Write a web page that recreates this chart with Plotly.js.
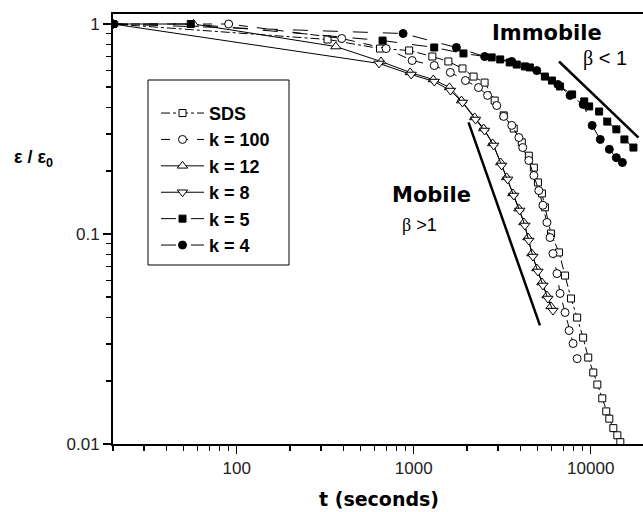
<!DOCTYPE html>
<html><head><meta charset="utf-8">
<script src="https://cdn.plot.ly/plotly-3.0.1.min.js"></script>
<style>html,body{margin:0;padding:0;background:#fff}</style>
</head><body><div id="chart" style="width:643px;height:512px"></div>
<script>
// ---- data ----
const seriesNames = ['SDS', 'k = 100', 'k = 12', 'k = 8', 'k = 5', 'k = 4'];

const tSDS = [20, 326, 645, 942, 1274, 1570, 1886, 2178, 2514, 2866, 3224, 3672, 4080, 4470, 4772, 5032, 5300, 5512, 5960, 6620, 7160, 7740, 8380, 9060, 9680, 10340, 10900, 11620, 12240, 12740, 13420, 14140, 14700];
const eSDS = [1.0, 0.844, 0.764, 0.748, 0.700, 0.663, 0.614, 0.562, 0.526, 0.432, 0.367, 0.318, 0.273, 0.236, 0.207, 0.176, 0.156, 0.134, 0.1005, 0.0817, 0.0634, 0.0493, 0.040, 0.0321, 0.0258, 0.0219, 0.0192, 0.0165, 0.0143, 0.0132, 0.0119, 0.011, 0.0102];

const tK100 = [20, 90, 392, 698, 980, 1306, 1610, 1960, 2322, 2614, 2944, 3224, 3580, 3930, 4130, 4470, 4772, 5090, 5370, 5660, 5890, 6120, 6450, 6710, 7160, 7550, 7950, 8380];
const eK100 = [1.0, 1.0, 0.853, 0.764, 0.670, 0.634, 0.588, 0.538, 0.498, 0.457, 0.409, 0.363, 0.329, 0.288, 0.258, 0.224, 0.190, 0.161, 0.137, 0.1135, 0.0962, 0.0807, 0.0648, 0.0521, 0.0423, 0.0347, 0.0301, 0.0255];

const tK12 = [20, 57, 363, 653, 955, 1290, 1592, 1862, 2208, 2484, 2793, 3100, 3350, 3630, 3930, 4190, 4420, 4650, 4960, 5300, 5660, 5960];
const eK12 = [1.0, 1.0, 0.781, 0.663, 0.588, 0.544, 0.499, 0.432, 0.359, 0.318, 0.270, 0.219, 0.186, 0.156, 0.132, 0.1135, 0.0962, 0.0807, 0.0685, 0.0588, 0.0509, 0.0452];

const tK8 = [20, 637, 968, 1307, 1612, 1886, 2236, 2514, 2830, 3140, 3396, 3674, 3972, 4246, 4470, 4710, 5032, 5370, 5730, 6120];
const eK8 = [1.0, 0.649, 0.575, 0.532, 0.482, 0.423, 0.351, 0.311, 0.264, 0.212, 0.182, 0.1525, 0.1294, 0.1098, 0.0931, 0.0781, 0.0663, 0.0569, 0.0493, 0.0432];

const tK5 = [20, 55, 667, 1306, 1910, 2757, 3080, 3485, 3820, 4245, 4530, 5510, 6040, 6710, 7850, 9190, 9800, 11160, 12400, 13960, 15500, 17430];
const eK5 = [1.0, 1.0, 0.834, 0.773, 0.724, 0.693, 0.678, 0.656, 0.641, 0.628, 0.621, 0.562, 0.538, 0.504, 0.462, 0.428, 0.405, 0.383, 0.343, 0.315, 0.282, 0.258];

const tK4 = [20, 871, 1742, 2515, 3580, 4960, 6530, 7640, 9060, 10190, 11320, 12740, 13960, 15100];
const eK4 = [1.0, 0.901, 0.773, 0.700, 0.663, 0.600, 0.515, 0.457, 0.414, 0.329, 0.282, 0.253, 0.231, 0.219];

const fitMobileT = [2040, 5165];
const fitMobileE = [0.340, 0.0367];
const fitImmobileT = [6620, 18620];
const fitImmobileE = [0.663, 0.288];

const xTickVals = [100, 1000, 10000];
const xTickText = ['100', '1000', '10000'];
const yTickVals = [0.01, 0.1, 1];
const yTickText = ['0.01', '0.1', '1'];

// ---- minor tick positions (2..9 per decade) ----
function minorTicks(fromExp, toExp) {
  const v = [];
  for (let p = fromExp; p <= toExp; p++) for (let m = 2; m <= 9; m++) v.push(m * Math.pow(10, p));
  return v;
}

function series(name, t, e, symbol, fill, size, dash) {
  return {
    type: 'scatter', mode: 'lines+markers', name: name, x: t, y: e,
    line: {color: '#000', width: 1, dash: dash},
    marker: {symbol: symbol, size: size, color: fill, line: {color: '#000', width: 1}}
  };
}

const data = [
  series(seriesNames[0], tSDS, eSDS, 'square', '#fff', 7, 'dashdot'),
  series(seriesNames[1], tK100, eK100, 'circle', '#fff', 8, 'dash'),
  series(seriesNames[2], tK12, eK12, 'triangle-up', '#fff', 9, 'solid'),
  series(seriesNames[3], tK8, eK8, 'triangle-down', '#fff', 9, 'solid'),
  series(seriesNames[4], tK5, eK5, 'square', '#000', 7, 'longdash'),
  series(seriesNames[5], tK4, eK4, 'circle', '#000', 8, 'longdash'),
  {type: 'scatter', mode: 'lines', x: fitMobileT, y: fitMobileE, showlegend: false, line: {color: '#000', width: 2.5}},
  {type: 'scatter', mode: 'lines', x: fitImmobileT, y: fitImmobileE, showlegend: false, line: {color: '#000', width: 2.5}}
];

const tickFont = {family: 'Liberation Sans, Arial, sans-serif', size: 17, color: '#222'};
const axisCommon = {
  type: 'log', ticks: 'outside', ticklen: 8, tickwidth: 1.5, tickcolor: '#000',
  showline: true, linewidth: 2, linecolor: '#000', showgrid: false, zeroline: false,
  tickfont: tickFont
};

const layout = {
  width: 643, height: 512,
  margin: {l: 113, r: 0, t: 14, b: 68},
  paper_bgcolor: '#fff', plot_bgcolor: '#fff',
  showlegend: true,
  legend: {
    x: (156 - 113) / 530, y: 0.812, xanchor: 'left', yanchor: 'top',
    bgcolor: 'rgba(0,0,0,0)', borderwidth: 0, itemwidth: 43, tracegroupgap: 0,
    font: {family: 'Liberation Sans, Arial, sans-serif', size: 18, weight: 'bold', color: '#000'}
  },
  xaxis: Object.assign({}, axisCommon, {
    range: [Math.log10(20), Math.log10(20) + 530 / 177],
    tickvals: xTickVals, ticktext: xTickText, mirror: true,
    minor: {tickvals: minorTicks(1, 4), ticks: 'outside', ticklen: 5, tickwidth: 1.5, tickcolor: '#000', showgrid: false}
  }),
  yaxis: Object.assign({}, axisCommon, {
    range: [-2, -2 + 430 / 210],
    tickvals: yTickVals, ticktext: yTickText,
    minor: {tickvals: minorTicks(-2, -1), ticks: 'outside', ticklen: 5, tickwidth: 1.5, tickcolor: '#000', showgrid: false}
  }),
  shapes: [{
    type: 'rect', xref: 'paper', yref: 'paper', layer: 'below',
    x0: (148 - 113) / 530, x1: (289 - 113) / 530,
    y0: (444 - 265) / 430, y1: (444 - 80) / 430,
    line: {color: '#000', width: 1}, fillcolor: '#fff'
  }],
  annotations: [
    {xref: 'paper', yref: 'paper', x: (546.5 - 113) / 530, y: (444 - 32.5) / 430, text: 'Immobile', showarrow: false,
     xanchor: 'center', yanchor: 'middle', font: {family: 'DejaVu Sans, sans-serif', size: 21, weight: 'bold', color: '#000'}},
    {xref: 'paper', yref: 'paper', x: (431 - 113) / 530, y: (444 - 194.5) / 430, text: 'Mobile', showarrow: false,
     xanchor: 'center', yanchor: 'middle', font: {family: 'DejaVu Sans, sans-serif', size: 21, weight: 'bold', color: '#000'}},
    {xref: 'paper', yref: 'paper', x: (605 - 113) / 530, y: (444 - 59) / 430, text: '<span style="font-family:Liberation Serif">β</span> < 1', showarrow: false,
     xanchor: 'center', yanchor: 'middle', font: {family: 'Liberation Sans, Arial, sans-serif', size: 20, color: '#000'}},
    {xref: 'paper', yref: 'paper', x: (419 - 113) / 530, y: (444 - 225) / 430, text: '<span style="font-family:Liberation Serif">β</span> >1', showarrow: false,
     xanchor: 'center', yanchor: 'middle', font: {family: 'Liberation Sans, Arial, sans-serif', size: 18, color: '#000'}},
    {xref: 'paper', yref: 'paper', x: (33 - 113) / 530, y: (444 - 158) / 430, text: 'ε / ε<sub>0</sub>', showarrow: false,
     xanchor: 'center', yanchor: 'middle', font: {family: 'Liberation Sans, Arial, sans-serif', size: 18, weight: 'bold', color: '#000'}},
    {xref: 'paper', yref: 'paper', x: (379 - 113) / 530, y: (444 - 499) / 430, text: 't (seconds)', showarrow: false,
     xanchor: 'center', yanchor: 'middle', font: {family: 'DejaVu Sans, sans-serif', size: 19, weight: 'bold', color: '#000'}}
  ]
};

Plotly.newPlot('chart', data, layout, {displayModeBar: false, staticPlot: true});
</script>
</body></html>
